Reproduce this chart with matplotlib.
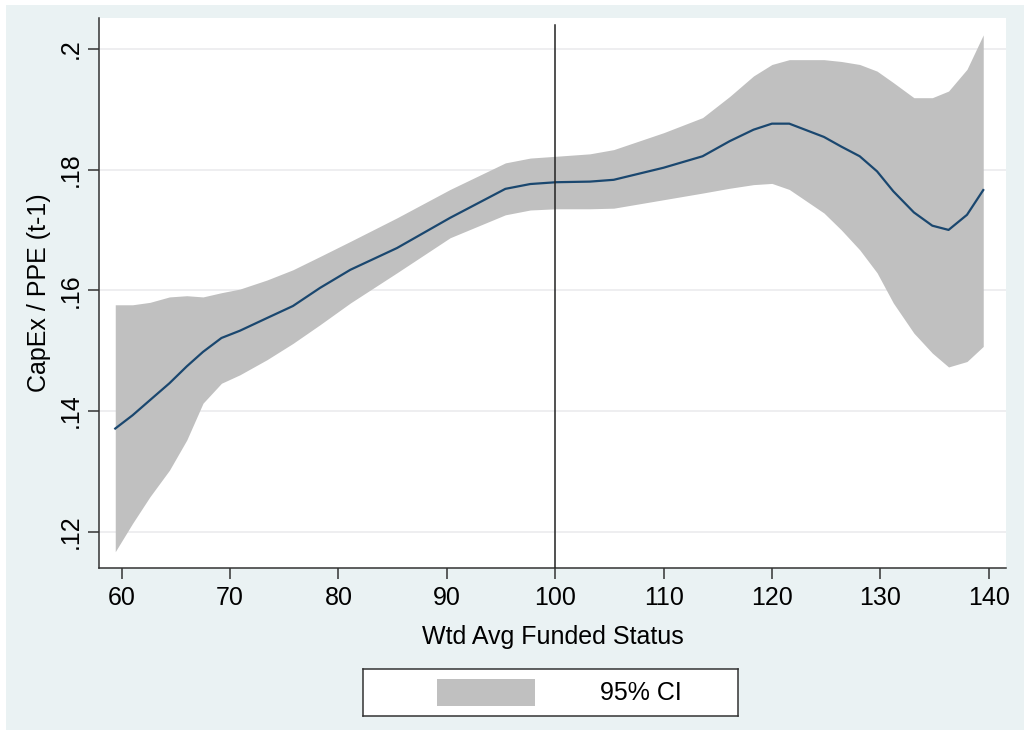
import matplotlib
matplotlib.use("Agg")
import matplotlib.pyplot as plt
from matplotlib.patches import Rectangle

plt.rcParams['font.family'] = ['Liberation Sans', 'DejaVu Sans']

# funded status grid, fitted value and 95% CI bounds
funded = [59.4, 61, 62.6, 64.4, 66, 67.5, 69.2, 70.9, 73.4, 75.8, 78.3, 81.1,
          85.4, 90.3, 95.4, 97.7, 100.1, 103.2, 105.4, 110, 113.6, 116.1,
          118.3, 120, 121.6, 124.8, 126.4, 128.1, 129.7, 131.2, 133.1, 134.8,
          136.3, 138, 139.5]
fit = [0.1371, 0.1393, 0.1418, 0.1446, 0.1474, 0.1498, 0.1521, 0.1533, 0.1554,
       0.1574, 0.1604, 0.1634, 0.1670, 0.1720, 0.1768, 0.1776, 0.1779, 0.1780,
       0.1783, 0.1803, 0.1822, 0.1847, 0.1866, 0.1876, 0.1876, 0.1854, 0.1838,
       0.1822, 0.1797, 0.1764, 0.1729, 0.1707, 0.1700, 0.1725, 0.1766]
ci_hi = [0.1576, 0.1576, 0.1580, 0.1589, 0.1591, 0.1589, 0.1596, 0.1602, 0.1617,
         0.1634, 0.1656, 0.1681, 0.1720, 0.1767, 0.1811, 0.1819, 0.1822, 0.1826,
         0.1833, 0.1861, 0.1886, 0.1921, 0.1955, 0.1974, 0.1982, 0.1982, 0.1979,
         0.1974, 0.1963, 0.1944, 0.1919, 0.1919, 0.1930, 0.1966, 0.2023]
ci_lo = [0.1167, 0.1214, 0.1258, 0.1302, 0.1352, 0.1413, 0.1446, 0.1460, 0.1485,
         0.1512, 0.1543, 0.1579, 0.1629, 0.1687, 0.1725, 0.1733, 0.1735, 0.1735,
         0.1736, 0.1750, 0.1761, 0.1769, 0.1775, 0.1777, 0.1767, 0.1728, 0.1700,
         0.1667, 0.1629, 0.1579, 0.1529, 0.1496, 0.1473, 0.1482, 0.1507]
xticks = [60, 70, 80, 90, 100, 110, 120, 130, 140]
yticks = [0.12, 0.14, 0.16, 0.18, 0.2]
ylabels = ['.12', '.14', '.16', '.18', '.2']

FS = 18
W, H = 1024, 730
fig = plt.figure(figsize=(W / 100, H / 100), dpi=100, facecolor='white')
fig.patches.append(Rectangle((6 / W, 0), 1 - 6 / W, 1 - 5 / H, transform=fig.transFigure,
                             facecolor='#eaf2f3', edgecolor='none', zorder=-10))

ax = fig.add_axes([99 / W, (H - 568) / H, 907 / W, 550 / H])
ax.set_facecolor('white')
ylo, yhi = 0.114, 0.2051
ax.set_xlim(57.9, 141.6)
ax.set_ylim(ylo, yhi)

ax.fill_between(funded, ci_lo, ci_hi, color='#c0c0c0', lw=0, zorder=2)
ax.plot(funded, fit, color='#1a476f', lw=1.6, zorder=3)
ax.axvline(100, ymin=0, ymax=(0.2040 - ylo) / (yhi - ylo), color='#222222', lw=1.1, zorder=4)

ax.set_xticks(xticks)
ax.set_yticks(yticks)
ax.set_yticklabels(ylabels, rotation=90, va='center')
ax.grid(axis='y', color='#ebebee', lw=1.2, zorder=0)
ax.set_axisbelow(True)
for s in ['top', 'right']:
    ax.spines[s].set_visible(False)
for s in ['left', 'bottom']:
    ax.spines[s].set_color('#333333')
    ax.spines[s].set_linewidth(1.1)
ax.tick_params(axis='both', direction='out', length=8, width=1.1, color='#333333',
               labelsize=FS, labelcolor='black')
ax.tick_params(axis='x', pad=5)
ax.tick_params(axis='y', pad=4)
ax.set_xlabel('Wtd Avg Funded Status', fontsize=FS, labelpad=11)
ax.set_ylabel('CapEx / PPE (t-1)', fontsize=FS, labelpad=5)

# legend box drawn like Stata's
lax = fig.add_axes([363 / W, (H - 716) / H, 375 / W, 47 / H])
lax.set_xlim(0, 375)
lax.set_ylim(0, 47)
lax.set_xticks([])
lax.set_yticks([])
lax.set_facecolor('white')
for s in lax.spines.values():
    s.set_color('#333333')
    s.set_linewidth(1.1)
lax.add_patch(Rectangle((74, 10), 98, 27, facecolor='#c0c0c0', edgecolor='none'))
lax.text(237, 23.5, '95% CI', fontsize=FS, va='center', ha='left')

fig.savefig('out.png', dpi=100, facecolor=fig.get_facecolor())
